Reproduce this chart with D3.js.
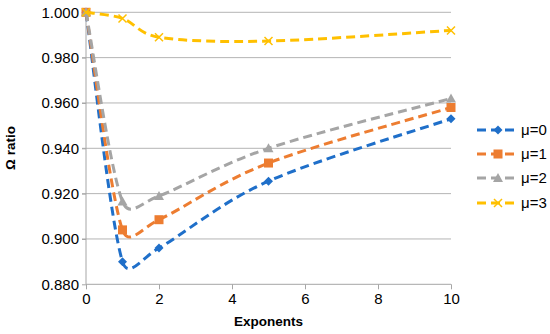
<!DOCTYPE html>
<html>
<head>
<meta charset="utf-8">
<script src="https://cdn.jsdelivr.net/npm/d3@7"></script>
<style>
  body{margin:0;background:#fff;}
  text{font-family:"Liberation Sans",Arial,sans-serif;}
</style>
</head>
<body>
<svg id="main"></svg>
<script>
//--------data----------
const exponents = [0, 1, 2, 5, 10];
const seriesNames = ['μ=0', 'μ=1', 'μ=2', 'μ=3'];
const mu0 = [1.000, 0.890, 0.896, 0.9255, 0.953];
const mu1 = [1.000, 0.904, 0.9085, 0.9335, 0.958];
const mu2 = [1.000, 0.9165, 0.919, 0.940, 0.962];
const mu3 = [1.000, 0.9973, 0.989, 0.9873, 0.992];
const yTicks = [0.880, 0.900, 0.920, 0.940, 0.960, 0.980, 1.000];
const xTicks = [0, 2, 4, 6, 8, 10];

const colors = ['#1f6fc9', '#ed7d31', '#a5a5a5', '#ffc000'];
const shapes = ['diamond', 'square', 'triangle', 'x'];

//--------code----------
let width = 550, height = 334;
let svg = d3.select('#main').attr('width', width).attr('height', height);

let sx = d3.scaleLinear().domain([0, 10]).range([86, 451]);
let sy = d3.scaleLinear().domain([0.88, 1.0]).range([284.3, 12.3]);

// gridlines
svg.append('g')
  .selectAll('line')
  .data(yTicks.slice(1))
  .join('line')
  .attr('x1', sx(0) - 4).attr('x2', sx(10))
  .attr('y1', d => sy(d)).attr('y2', d => sy(d))
  .attr('stroke', '#b4b4b4').attr('stroke-width', 1);

// axes
let ax = d3.axisBottom(sx).tickValues(xTicks).tickSize(5).tickPadding(4).tickFormat(d3.format('d'));
let ay = d3.axisLeft(sy).tickValues(yTicks).tickSize(4).tickPadding(3).tickFormat(d3.format('.3f'));
let gx = svg.append('g').attr('transform', `translate(0,${sy(0.88)})`).call(ax);
let gy = svg.append('g').attr('transform', `translate(${sx(0)},0)`).call(ay);
[gx, gy].forEach(g => {
  g.select('.domain').attr('stroke', '#a6a6a6');
  g.selectAll('.tick line').attr('stroke', '#a6a6a6');
  g.selectAll('.tick text').attr('fill', '#000').style('font-size', '15px')
   .style('font-family', '"Liberation Sans",Arial,sans-serif');
});
gy.select('.domain').attr('d', `M0,${sy(0.88)}V${sy(1.0)}`);
gx.select('.domain').attr('d', `M${sx(0)},0H${sx(10)}`);

// titles
svg.append('text')
  .attr('x', (sx(0) + sx(10)) / 2).attr('y', 326)
  .attr('text-anchor', 'middle')
  .style('font-size', '13.5px').style('font-weight', 'bold')
  .text('Exponents');
svg.append('text')
  .attr('transform', `translate(15,148) rotate(-90)`)
  .attr('text-anchor', 'middle')
  .style('font-size', '13.5px').style('font-weight', 'bold')
  .text('Ω ratio');

function marker(g, shape, color, x, y){
  if(shape === 'diamond'){
    g.append('path').attr('d', `M${x},${y-4.5}L${x+4.5},${y}L${x},${y+4.5}L${x-4.5},${y}Z`).attr('fill', color);
  }else if(shape === 'square'){
    g.append('rect').attr('x', x-4.5).attr('y', y-4.5).attr('width', 9).attr('height', 9).attr('fill', color);
  }else if(shape === 'triangle'){
    g.append('path').attr('d', `M${x},${y-5}L${x+5},${y+4}L${x-5},${y+4}Z`).attr('fill', color);
  }else{
    g.append('path').attr('d', `M${x-4},${y-4}L${x+4},${y+4}M${x-4},${y+4}L${x+4},${y-4}`)
      .attr('stroke', color).attr('stroke-width', 1.5);
  }
}

// spreadsheet-like smoothing: catmull-rom tangents (1/6 of chord),
// with each control arm capped at half of its segment so short segments don't overshoot
function smoothPath(vals){
  let pts = vals.map((v, i) => [sx(exponents[i]), sy(v)]);
  let n = pts.length;
  let p = d3.path();
  p.moveTo(pts[0][0], pts[0][1]);
  let tan = pts.map((q, i) => {
    let a = pts[Math.max(i-1, 0)], b = pts[Math.min(i+1, n-1)];
    return [(b[0]-a[0])/6, (b[1]-a[1])/6];
  });
  let cap = (t, len) => {
    let l = Math.hypot(t[0], t[1]);
    let f = l > 0.5*len ? 0.5*len/l : 1;
    return [t[0]*f, t[1]*f];
  };
  for(let i=0; i<n-1; i++){
    let a = pts[i], b = pts[i+1];
    let len = Math.hypot(b[0]-a[0], b[1]-a[1]);
    let t0 = cap(tan[i], len), t1 = cap(tan[i+1], len);
    p.bezierCurveTo(a[0]+t0[0], a[1]+t0[1], b[0]-t1[0], b[1]-t1[1], b[0], b[1]);
  }
  return p.toString();
}

let allSeries = [mu0, mu1, mu2, mu3];
allSeries.forEach((vals, k) => {
  let g = svg.append('g');
  g.append('path')
    .attr('d', smoothPath(vals))
    .attr('fill', 'none')
    .attr('stroke', colors[k])
    .attr('stroke-width', 3)
    .attr('stroke-dasharray', '9,5');
  vals.forEach((v, i) => marker(g, shapes[k], colors[k], sx(exponents[i]), sy(v)));
});

// legend
let legendY = [130, 154, 178, 203];
seriesNames.forEach((name, k) => {
  let g = svg.append('g');
  let y = legendY[k];
  g.append('line').attr('x1', 477).attr('x2', 518).attr('y1', y).attr('y2', y)
    .attr('stroke', colors[k]).attr('stroke-width', 3).attr('stroke-dasharray', '9,5');
  marker(g, shapes[k], colors[k], 498, y);
  g.append('text').attr('x', 521).attr('y', y + 5)
    .style('font-size', '15px').text(name);
});
</script>
</body>
</html>
